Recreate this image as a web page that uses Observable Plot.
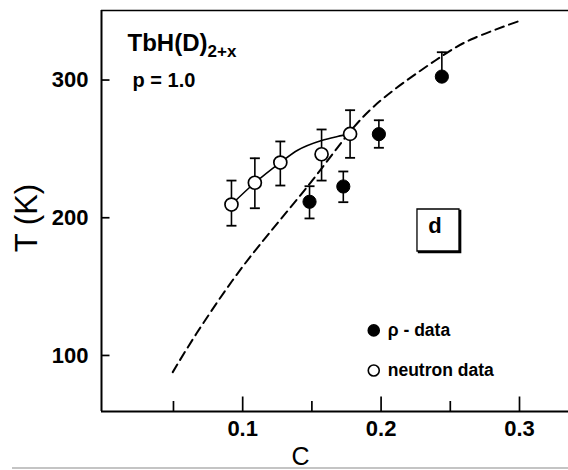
<!DOCTYPE html>
<html><head><meta charset="utf-8">
<script src="https://cdn.jsdelivr.net/npm/d3@7"></script>
<script src="https://cdn.jsdelivr.net/npm/@observablehq/plot@0.6"></script>
<style>
html,body{margin:0;padding:0;background:#fff;}
#wrap{position:relative;width:568px;height:470px;overflow:hidden;background:#fff;}
#scanline{position:absolute;left:12px;top:467px;width:556px;height:2px;background:#c4c4c4;}
</style></head><body><div id="wrap"><div id="chart"></div><div id="scanline"></div></div>
<script>
// ---- data ----
const neutronC   = [0.0919, 0.1088, 0.1272, 0.1570, 0.1776];
const neutronT   = [209.6, 225.4, 240.1, 246.1, 260.9];
const neutronLo  = [194.2, 206.9, 223.4, 227.0, 243.5];
const neutronHi  = [227.0, 243.2, 255.4, 264.1, 278.1];

const rhoC  = [0.1483, 0.1727, 0.1984, 0.2439];
const rhoT  = [211.6, 222.7, 260.7, 302.5];
const rhoLo = [199.5, 211.3, 250.8, 302.5];
const rhoHi = [222.9, 233.6, 270.8, 320.2];

const dashC = [0.0495, 0.0665, 0.0926, 0.1188, 0.1502, 0.1763, 0.2025, 0.2392, 0.2653, 0.3007];
const dashT = [87.9, 115.7, 154.4, 188.3, 227.0, 260.9, 287.5, 314.2, 329.6, 343.2];

const fitC = [0.0919, 0.1088, 0.1272, 0.1397, 0.1570, 0.1685, 0.1776];
const fitT = [209.6, 225.4, 240.1, 249.0, 256.1, 259.0, 260.9];

const xMajorTicks = [0.1, 0.2, 0.3];
const xMinorTicks = [0.05, 0.15, 0.25];
const yTicks = [100, 200, 300];
const xDomain = [-0.002, 0.3354];
const yDomain = [59.3, 350.5];

const titleMain = "TbH(D)";
const titleSub = "2+x";
const paramLabel = "p = 1.0";
const panelLabel = "d";
const legendLabels = ["ρ - data", "neutron data"];
const xTitle = "C";
const yTitle = "T (K)";

// ---- build tables ----
const neutron = neutronC.map((c, i) => ({c, t: neutronT[i], lo: neutronLo[i], hi: neutronHi[i]}));
const rho = rhoC.map((c, i) => ({c, t: rhoT[i], lo: rhoLo[i], hi: rhoHi[i]}));
const dash = dashC.map((c, i) => ({c, t: dashT[i]}));
const fit = fitC.map((c, i) => ({c, t: fitT[i]}));
const all = neutron.concat(rho);
const caps = all.flatMap(d => d.lo < d.t ? [{c: d.c, v: d.lo}, {c: d.c, v: d.hi}] : [{c: d.c, v: d.hi}]);

// custom symbols
const hCap = {draw(ctx, size) { const r = Math.sqrt(size / Math.PI); ctx.moveTo(-r, 0); ctx.lineTo(r, 0); }};
const vTick = {draw(ctx, size) { const r = Math.sqrt(size / Math.PI); ctx.moveTo(0, 0); ctx.lineTo(0, -r); }};
const hTick = {draw(ctx, size) { const r = Math.sqrt(size / Math.PI); ctx.moveTo(0, 0); ctx.lineTo(r, 0); }};

const font = "'Liberation Sans', Arial, Helvetica, sans-serif";
const legendX = 0.1947, legendY = [118.2, 89.1];
const boxX = 0.2411, boxY = 191.1;

const chart = Plot.plot({
  width: 568, height: 470,
  marginLeft: 101, marginRight: 0, marginTop: 10, marginBottom: 59,
  x: {domain: xDomain, axis: null},
  y: {domain: yDomain, axis: null},
  style: {fontFamily: font, background: "white", color: "black", overflow: "visible"},
  marks: [
    // frame lines
    Plot.ruleX([xDomain[0]], {x: d => d, stroke: "black", strokeWidth: 2}),
    Plot.ruleY([yDomain[0]], {y: d => d, stroke: "black", strokeWidth: 2}),
    Plot.ruleY([yDomain[1]], {y: d => d, stroke: "black", strokeWidth: 1.5}),
    // ticks (inward)
    Plot.dot(xMajorTicks, {x: d => d, frameAnchor: "bottom", symbol: vTick, r: 15, stroke: "black", strokeWidth: 1.7, fill: "none"}),
    Plot.dot(xMinorTicks, {x: d => d, frameAnchor: "bottom", symbol: vTick, r: 10.5, stroke: "black", strokeWidth: 1.7, fill: "none"}),
    Plot.dot(yTicks, {y: d => d, frameAnchor: "left", symbol: hTick, r: 8, stroke: "black", strokeWidth: 1.7, fill: "none"}),
    // tick labels
    Plot.text(xMajorTicks, {x: d => d, text: d => d.toFixed(1), frameAnchor: "bottom", lineAnchor: "top", dy: 9, fontSize: 22, fontWeight: "bold"}),
    Plot.text(yTicks, {y: d => d, text: d => String(d), frameAnchor: "left", textAnchor: "end", lineAnchor: "middle", dx: -13, fontSize: 22, fontWeight: "bold"}),
    // axis titles
    Plot.text([xTitle], {text: d => d, frameAnchor: "bottom", lineAnchor: "bottom", dx: -34.5, dy: 53, fontSize: 25}),
    Plot.text([yTitle], {text: d => d, frameAnchor: "left", rotate: -90, lineAnchor: "middle", textAnchor: "middle", dx: -74, dy: 7, fontSize: 31}),
    // curves
    Plot.line(dash, {x: "c", y: "t", curve: "natural", stroke: "black", strokeWidth: 2, strokeDasharray: "9,5.5"}),
    Plot.line(fit, {x: "c", y: "t", curve: "monotone-x", stroke: "black", strokeWidth: 1.6}),
    // error bars
    Plot.ruleX(all, {x: "c", y1: d => Math.min(d.lo, d.t), y2: "hi", stroke: "black", strokeWidth: 1.6}),
    Plot.dot(caps, {x: "c", y: "v", symbol: hCap, r: 5, stroke: "black", strokeWidth: 1.8, fill: "none"}),
    // points
    Plot.dot(rho, {x: "c", y: "t", r: 6.6, fill: "black", stroke: "black", strokeWidth: 1}),
    Plot.dot(neutron, {x: "c", y: "t", r: 6.5, fill: "white", stroke: "black", strokeWidth: 1.7}),
    // title texts
    Plot.text([titleMain], {text: d => d, frameAnchor: "top-left", textAnchor: "start", lineAnchor: "bottom", dx: 26, dy: 40, fontSize: 24, fontWeight: "bold"}),
    Plot.text([titleSub], {text: d => d, frameAnchor: "top-left", textAnchor: "start", lineAnchor: "bottom", dx: 106, dy: 46, fontSize: 17, fontWeight: "bold"}),
    Plot.text([paramLabel], {text: d => d, frameAnchor: "top-left", textAnchor: "start", lineAnchor: "bottom", dx: 31, dy: 76, fontSize: 20, fontWeight: "bold"}),
    // panel label box
    Plot.dot([panelLabel], {x: () => boxX, y: () => boxY, symbol: "square", r: 23.7, fill: "black", stroke: "black", dx: 1.6, dy: 1.6}),
    Plot.dot([panelLabel], {x: () => boxX, y: () => boxY, symbol: "square", r: 23.7, fill: "white", stroke: "black", strokeWidth: 1.3}),
    Plot.text([panelLabel], {x: () => boxX, y: () => boxY, text: d => d, lineAnchor: "bottom", dx: -3, dy: 3, fontSize: 22, fontWeight: "bold"}),
    // legend
    Plot.dot(legendLabels, {x: () => legendX, y: (d, i) => legendY[i], r: 5.5, fill: (d, i) => i === 0 ? "black" : "white", stroke: "black", strokeWidth: 1.6}),
    Plot.text(legendLabels, {x: () => legendX, y: (d, i) => legendY[i], text: d => d, textAnchor: "start", lineAnchor: "middle", dx: 14, fontSize: 17.5, fontWeight: "bold"})
  ]
});
document.getElementById("chart").appendChild(chart);
</script></body></html>
